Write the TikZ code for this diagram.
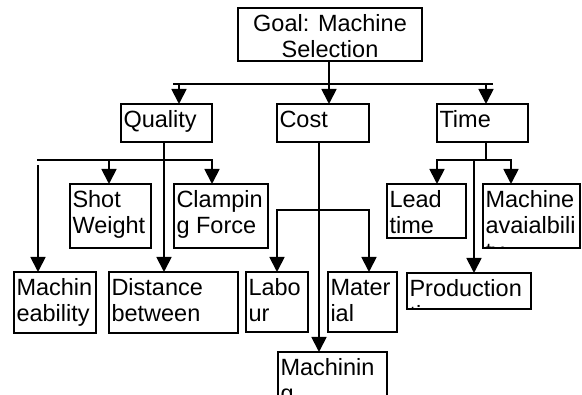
\documentclass[tikz,border=0pt]{standalone}
\usepackage{fontspec}
\setmainfont{Liberation Sans}
\usetikzlibrary{arrows.meta}

\tikzset{
  cell/.style={draw, line width=1.8pt, inner sep=0pt, outer sep=0pt, anchor=north west},
  celltext/.style={inner sep=0pt, font=\fontsize{23.5}{26}\selectfont},
  link/.style={line width=1.8pt},
  bus/.style={link, line cap=rect},
  arr/.style={link, -{Triangle[width=15pt,length=15pt]}},
}

% text frame: name, left, top, right, bottom, lines (text clipped to the frame)
\newcommand\cellbox[6]{%
  \node[cell, minimum width={(#4-#2)*1pt}, minimum height={(#5-#3)*1pt},
    path picture={\node[celltext, anchor=base west]
      at ([shift={(2.5pt,-23.5pt)}]path picture bounding box.north west)
      {\parbox[t]{300pt}{#6}};}]
    (#1) at (#2,#3) {};}

\begin{document}
\begin{tikzpicture}[x=1pt, y=-1pt]
\useasboundingbox (0,0) rectangle (582,395);
\clip (0,0) rectangle (582,395);

% goal
\node[cell, minimum width=184pt, minimum height=53pt,
  path picture={\node[celltext, anchor=base]
    at ([yshift=-24pt]path picture bounding box.north)
    {\parbox[t]{184pt}{\centering Goal: Machine\\Selection}};}]
  (goal) at (238,8) {};

% criteria
\cellbox{quality}{121}{104}{212}{142}{Quality}
\cellbox{cost}{277}{104}{369}{142}{Cost}
\cellbox{time}{437}{104}{528}{142}{Time}

% sub-criteria
\cellbox{shot}{70}{184}{151}{248}{Shot\\Weight}
\cellbox{clamp}{174}{184}{268}{248}{Clampin\\g Force}
\cellbox{lead}{387}{184}{466}{238}{Lead\\time}
\cellbox{avail}{483}{184}{580}{248}{Machine\\avaialbili\\ty}
\cellbox{machin}{14}{272}{96}{333}{Machin\\eability}
\cellbox{dist}{109}{272}{238}{333}{Distance\\between}
\cellbox{labour}{246}{272}{308}{332}{Labo\\ur}
\cellbox{material}{328}{272}{397}{332}{Mater\\ial}
\cellbox{prod}{407}{273}{531}{309}{Production\\time}
\cellbox{machining}{278}{352}{387}{420}{Machinin\\g}

% goal -> criteria
\coordinate (busL) at (174,84);
\coordinate (busR) at (492,84);
\coordinate (tq) at (179,84);
\coordinate (tc) at (329,84);
\coordinate (tt) at (486,84);
\draw[link] (goal.south -| tc) -- (tc);
\draw[bus] (busL) -- (busR);
\draw[arr] (tq) -- (tq |- quality.north);
\draw[arr] (tc) -- (tc |- cost.north);
\draw[arr] (tt) -- (tt |- time.north);

% quality branch
\coordinate (qbusL) at (38,160);
\coordinate (qbusR) at (212,160);
\coordinate (qstem) at (164,160);
\coordinate (qa) at (109,160);
\coordinate (qgap) at (38,165);
\draw[bus] (qbusL) -- (qbusR);
\draw[arr] (quality.south -| qstem) -- (qstem |- dist.north);
\draw[arr] (qa) -- (qa |- shot.north);
\draw[arr] (qbusR) -- (qbusR |- clamp.north);
\draw[arr] (qgap) -- (qgap |- machin.north);

% cost branch
\coordinate (cstem) at (319,210);
\coordinate (cbusL) at (277,210);
\coordinate (cbusR) at (369,210);
\draw[arr] (cost.south -| cstem) -- (cstem |- machining.north);
\draw[bus] (cbusL) -- (cbusR);
\draw[arr] (cbusL) -- (cbusL |- labour.north);
\draw[arr] (cbusR) -- (cbusR |- material.north);

% time branch
\coordinate (tstem) at (486,160);
\coordinate (tbusL) at (437,160);
\coordinate (tbusR) at (511,160);
\coordinate (tprod) at (474,160);
\draw[link] (time.south -| tstem) -- (tstem);
\draw[bus] (tbusL) -- (tbusR);
\draw[arr] (tbusL) -- (tbusL |- lead.north);
\draw[arr] (tbusR) -- (tbusR |- avail.north);
\draw[arr] (tprod) -- (tprod |- prod.north);
\end{tikzpicture}
\end{document}
